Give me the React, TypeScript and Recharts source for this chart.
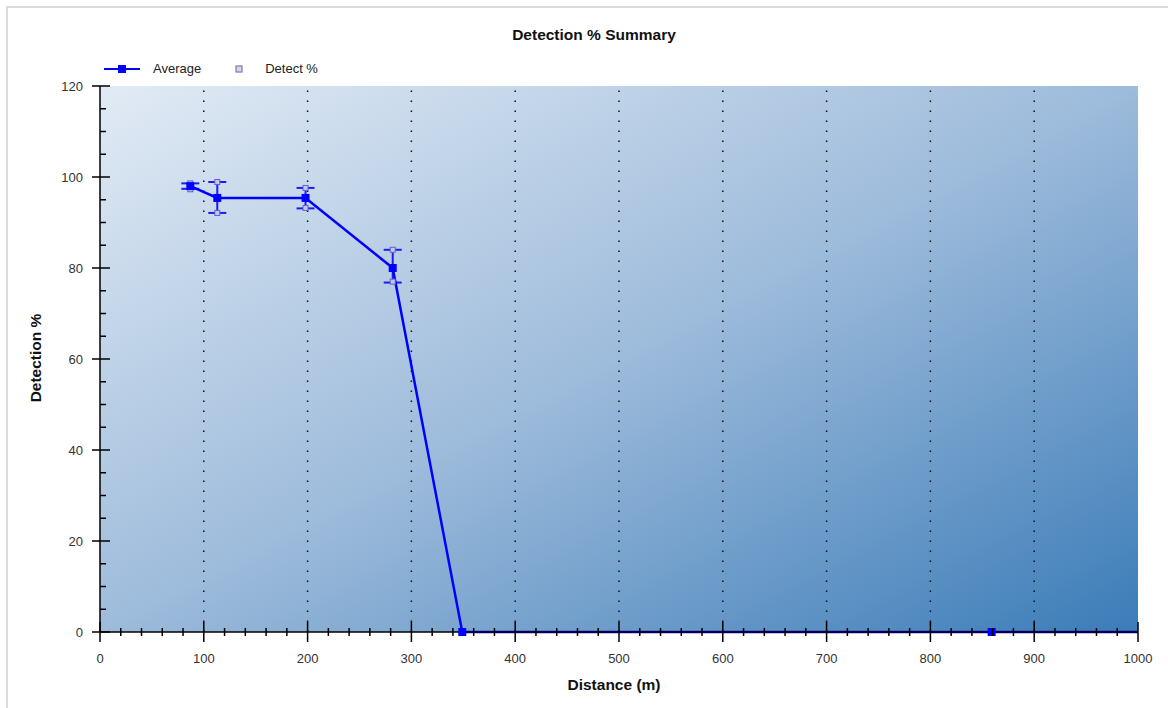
import { ComposedChart, Line, Scatter, ErrorBar, XAxis, YAxis, CartesianGrid, ReferenceLine } from 'recharts';

// Average detection % at each distance, with error bar deltas [below, above]
const distance = [87, 113, 198, 282, 349, 859, 1040];
const average = [98, 95.4, 95.4, 80, 0, 0, 0];
const errBelow = [0.6, 3.3, 2.3, 3.2, 0, 0, 0];
const errAbove = [0.6, 3.5, 2.2, 4, 0, 0, 0];

// individual detect % samples
const detectDist = [87, 87, 113, 113, 198, 198, 282, 282, 349, 859];
const detectPct = [98.6, 97.3, 98.9, 92.1, 97.6, 93.2, 84, 77, 0, 0];

const xTicks = Array.from({ length: 51 }, (_, i) => i * 20);
const yTicks = Array.from({ length: 25 }, (_, i) => i * 5);
const gridX = [100, 200, 300, 400, 500, 600, 700, 800, 900];

const avgData = distance.map((x, i) => ({
  x,
  avg: average[i],
  err: errBelow[i] || errAbove[i] ? [errBelow[i], errAbove[i]] : undefined,
}));
const detectData = detectDist.map((x, i) => ({ x, pct: detectPct[i] }));

const font = '"Liberation Sans", Arial, sans-serif';

const XTick = (props: any) => {
  const { x, y, payload } = props;
  const major = payload.value % 100 === 0;
  const h = major ? 10 : 4;
  return (
    <g>
      <line x1={x} x2={x} y1={y - h} y2={y + h} stroke="#000" strokeWidth={1.5} />
      {major && (
        <text x={x} y={y + 31} textAnchor="middle" fontSize={13} fill="#333" fontFamily={font}>
          {payload.value}
        </text>
      )}
    </g>
  );
};

const TopTick = (props: any) => {
  const { x, y, payload } = props;
  const major = payload.value % 100 === 0;
  return <line x1={x} x2={x} y1={y} y2={y + (major ? 14 : 4)} stroke="#000" strokeWidth={1.5} />;
};

const YTick = (props: any) => {
  const { x, y, payload } = props;
  const major = payload.value % 20 === 0;
  return (
    <g>
      <line x1={major ? x - 8 : x} x2={x + (major ? 10 : 6)} y1={y} y2={y} stroke="#000" strokeWidth={1.5} />
      {major && (
        <text x={x - 17} y={y + 4.5} textAnchor="end" fontSize={13} fill="#333" fontFamily={font}>
          {payload.value}
        </text>
      )}
    </g>
  );
};

const SquareDot = (props: any) => {
  const { cx, cy } = props;
  if (cx == null || cy == null) return null;
  return <rect x={cx - 4} y={cy - 4} width={8} height={8} fill="#0000ff" />;
};

const HollowSquare = (props: any) => {
  const { cx, cy } = props;
  return <rect x={cx - 2.5} y={cy - 2.5} width={5} height={5} fill="#c4c4ee" stroke="#6060d0" strokeWidth={1} />;
};

const LegendBox = () => (
  <div
    style={{
      position: 'absolute', left: 104, top: 61, display: 'flex', alignItems: 'center',
      fontFamily: font, fontSize: 13, color: '#222',
    }}
  >
    <svg width={40} height={12}>
      <line x1={0} x2={36} y1={6} y2={6} stroke="#0000ff" strokeWidth={2} />
      <rect x={14} y={2} width={8} height={8} fill="#0000ff" />
    </svg>
    <span style={{ marginLeft: 9 }}>Average</span>
    <svg width={12} height={12} style={{ marginLeft: 32 }}>
      <rect x={3} y={3} width={6} height={6} fill="#d4d4ea" stroke="#7c7cb4" strokeWidth={1.2} />
    </svg>
    <span style={{ marginLeft: 20 }}>Detect %</span>
  </div>
);

export default function App() {
  return (
    <div style={{ position: 'absolute', left: 0, top: 0, width: 1168, height: 708, background: '#fff' }}>
      <div
        style={{
          position: 'absolute', left: 6, top: 6, width: 1162, height: 702,
          borderTop: '2px solid #dcdcdc', borderLeft: '2px solid #dcdcdc',
        }}
      />
      <div
        style={{
          position: 'absolute', left: 0, top: 26, width: 1188, textAlign: 'center',
          fontFamily: font, fontWeight: 'bold', fontSize: 15.5, color: '#111',
        }}
      >
        Detection % Summary
      </div>
      <div
        style={{
          position: 'absolute', left: 0, top: 676, width: 1228, textAlign: 'center',
          fontFamily: font, fontWeight: 'bold', fontSize: 15.5, color: '#111',
        }}
      >
        Distance (m)
      </div>
      <div style={{ position: 'absolute', left: 36, top: 359, width: 0, height: 0 }}>
        <div
          style={{
            position: 'absolute', left: -100, top: -10, width: 200, textAlign: 'center',
            transform: 'rotate(-90deg)', fontFamily: font, fontWeight: 'bold', fontSize: 15.5, color: '#111',
          }}
        >
          Detection %
        </div>
      </div>
      <LegendBox />
      <ComposedChart width={1168} height={708} margin={{ top: 86, right: 30, bottom: 36, left: 40 }}>
        <defs>
          <linearGradient id="plotBg" x1="0" y1="0" x2="1" y2="1">
            <stop offset="0%" stopColor="#e2ebf5" />
            <stop offset="50%" stopColor="#9dbbdb" />
            <stop offset="100%" stopColor="#3b7cb8" />
          </linearGradient>
        </defs>
        <CartesianGrid horizontal={false} vertical={false} fill="url(#plotBg)" fillOpacity={1} />
        <XAxis
          dataKey="x"
          type="number"
          domain={[0, 1000]}
          allowDataOverflow
          ticks={xTicks}
          interval={0}
          tick={<XTick />}
          tickLine={false}
          tickSize={0}
          tickMargin={0}
          height={40}
          axisLine={{ stroke: '#000', strokeWidth: 1.5 }}
        />
        <XAxis
          xAxisId="top"
          orientation="top"
          dataKey="x"
          type="number"
          domain={[0, 1000]}
          ticks={xTicks}
          interval={0}
          tick={<TopTick />}
          tickLine={false}
          tickSize={0}
          tickMargin={0}
          height={0}
          axisLine={{ stroke: '#000', strokeWidth: 1.5 }}
        />
        <YAxis
          type="number"
          domain={[0, 120]}
          ticks={yTicks}
          interval={0}
          tick={<YTick />}
          tickLine={false}
          tickSize={0}
          tickMargin={0}
          width={60}
          axisLine={{ stroke: '#000', strokeWidth: 1.5 }}
        />
        <YAxis
          yAxisId="right"
          orientation="right"
          type="number"
          domain={[0, 120]}
          tick={false}
          tickLine={false}
          width={0}
          axisLine={{ stroke: '#000', strokeWidth: 1.5 }}
        />
        {gridX.map((v) => (
          <ReferenceLine key={v} x={v} stroke="#111" strokeWidth={1.5} strokeDasharray="1.5 8.5" />
        ))}
        <Scatter data={detectData} dataKey="pct" shape={<HollowSquare />} isAnimationActive={false} />
        <Line
          data={avgData}
          dataKey="avg"
          stroke="#0000ff"
          strokeWidth={2.5}
          dot={<SquareDot />}
          activeDot={false}
          isAnimationActive={false}
        >
          <ErrorBar dataKey="err" direction="y" width={9} stroke="#1c1cf0" strokeWidth={2} />
        </Line>
      </ComposedChart>
    </div>
  );
}
